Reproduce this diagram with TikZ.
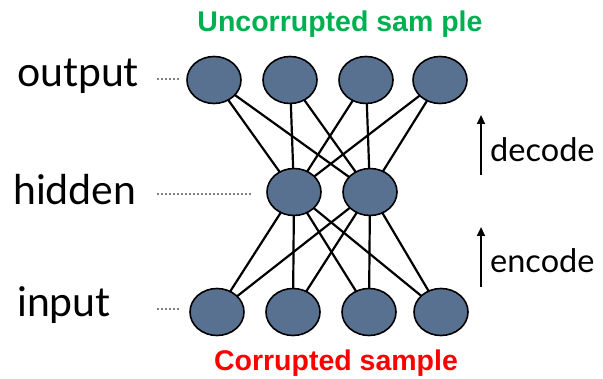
\documentclass[tikz,border=0pt]{standalone}
\usepackage{fontspec}
\setmainfont{Lato}
\newfontfamily\arialfont{Liberation Sans}
\usetikzlibrary{shapes.geometric,arrows.meta}
\definecolor{nodefill}{RGB}{88,113,145}
\definecolor{okgreen}{RGB}{0,176,80}
\tikzset{
  unit/.style={ellipse,draw=black,line width=1.6pt,fill=nodefill,minimum width=54pt,minimum height=47pt,inner sep=0pt},
  link/.style={line width=2.2pt,black},
  dotline/.style={gray,line width=1.2pt,dash pattern=on 2pt off 2pt},
  lefttext/.style={anchor=base west,inner sep=0pt,font=\fontsize{41}{43}\selectfont},
  righttext/.style={anchor=base west,inner sep=0pt,font=\fontsize{32.5}{34}\selectfont},
  updir/.style={line width=2.2pt,-{Triangle[width=8pt,length=9pt]}},
  title/.style={anchor=base,inner sep=0pt,font=\arialfont\bfseries\fontsize{28.5}{30}\selectfont},
}
\begin{document}
\begin{tikzpicture}[x=1pt,y=1pt]
\useasboundingbox (0,0) rectangle (603,378);
% node positions
\coordinate (po1) at (214,298);
\coordinate (po2) at (290,298);
\coordinate (po3) at (366,298);
\coordinate (po4) at (440,298);
\coordinate (ph1) at (294,186);
\coordinate (ph2) at (370,186);
\coordinate (pi1) at (217,66);
\coordinate (pi2) at (293,66);
\coordinate (pi3) at (369,66);
\coordinate (pi4) at (441,66);
% connectors drawn first, nodes on top
\foreach \o in {o1,o2,o3,o4}{\foreach \h in {h1,h2}{\draw[link] (p\o) -- (p\h);}}
\foreach \i in {i1,i2,i3,i4}{\foreach \h in {h1,h2}{\draw[link] (p\i) -- (p\h);}}
\node[unit] (o1) at (po1) {};
\node[unit] (o2) at (po2) {};
\node[unit] (o3) at (po3) {};
\node[unit] (o4) at (po4) {};
\node[unit] (h1) at (ph1) {};
\node[unit] (h2) at (ph2) {};
\node[unit] (i1) at (pi1) {};
\node[unit] (i2) at (pi2) {};
\node[unit] (i3) at (pi3) {};
\node[unit] (i4) at (pi4) {};
% left labels
\node[lefttext] (lo) at (17,291) {output};
\node[lefttext] (lh) at (13,173) {hidden};
\node[lefttext] (li) at (17,61) {input};
\coordinate (do) at (157,299);
\coordinate (dh) at (157,184);
\coordinate (di) at (157,69);
\draw[dotline,shorten >=7pt] (do) -- (o1.west |- do);
\draw[dotline,shorten >=14pt] (dh) -- (h1.west |- dh);
\draw[dotline,shorten >=9pt] (di) -- (i1.west |- di);
% titles
\node[title,text=okgreen] (tg) at (340,346) {Uncorrupted sam ple};
\node[title,text=red] (tr) at (336,8) {Corrupted sample};
% right arrows and labels
\coordinate (ds) at (481,203);
\coordinate (de) at (481,263);
\coordinate (es) at (481,91);
\coordinate (ee) at (481,151);
\draw[updir] (ds) -- (de);
\draw[updir] (es) -- (ee);
\node[righttext] (dec) at (490,216) {decode};
\node[righttext] (enc) at (490,105) {encode};
\end{tikzpicture}
\end{document}
